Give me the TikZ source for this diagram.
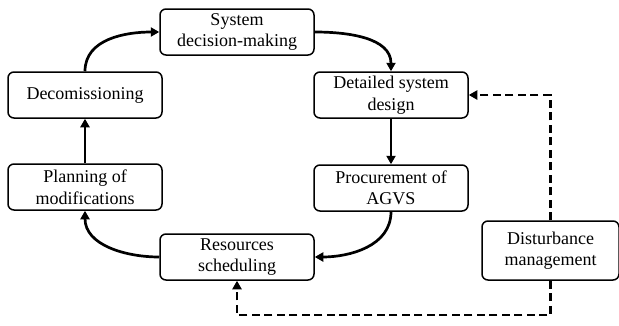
\documentclass[tikz,border=0pt]{standalone}
\usepackage{fontspec}
\setmainfont{Liberation Serif}
\usetikzlibrary{arrows.meta}
\begin{document}
\begin{tikzpicture}[x=1pt,y=1pt,
  stage/.style={draw, line width=1.5pt, rounded corners=6pt, minimum width=154pt,
    minimum height=46pt, align=center, inner sep=2pt,
    font=\fontsize{18}{21.5}\selectfont},
  flow/.style={line width=2.7pt, -{Triangle[length=8.5pt,width=9pt]}},
  feedback/.style={line width=2.7pt, dash pattern=on 8pt off 4.5pt,
    -{Triangle[length=8.5pt,width=9pt]}}]
\useasboundingbox (0,0) rectangle (619,325);

% life-cycle stages
\node[stage] (sys) at (237,293) {System\\decision-making};
\node[stage] (det) at (391,230) {Detailed system\\design};
\node[stage] (proc) at (391,137) {Procurement of\\AGVS};
\node[stage] (res) at (237,68) {Resources\\scheduling};
\node[stage] (plan) at (85,138) {Planning of\\modifications};
\node[stage] (dec) at (85,230) {Decomissioning};
\node[stage, minimum width=137pt, minimum height=59pt] (dist) at (550.5,74.5) {Disturbance\\management};

% cycle
\draw[flow] (sys.east) to[out=0,in=90] (det.north);
\draw[flow] (det.south) -- (proc.north);
\draw[flow] (proc.south) to[out=270,in=0] (res.east);
\draw[flow] (res.west) to[out=180,in=270] (plan.south);
\draw[flow] (plan.north) -- (dec.south);
\draw[flow] (dec.north) to[out=90,in=180] (sys.west);

% disturbance feedback
\coordinate (lowturn) at (400,10);
\draw[feedback] (dist.north) |- (det.east);
\draw[feedback] (dist.south) |- (lowturn) -| (res.south);
\end{tikzpicture}
\end{document}
